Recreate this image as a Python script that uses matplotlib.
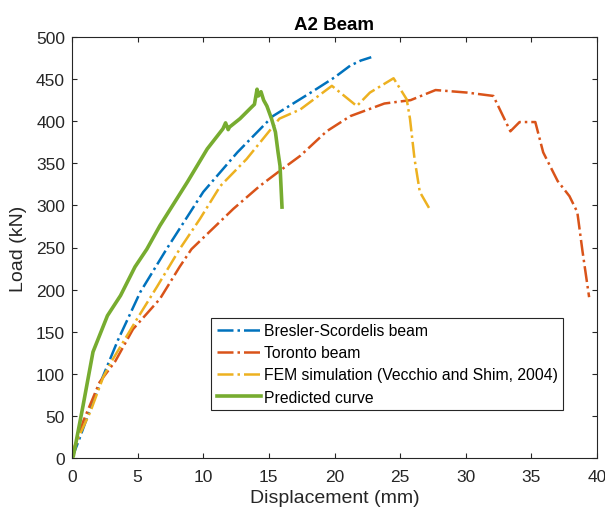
import matplotlib
matplotlib.use("Agg")
import matplotlib.pyplot as plt

plt.rcParams['font.family'] = ['Liberation Sans', 'DejaVu Sans']

# Bresler-Scordelis beam
bs_x = [0, 0.5, 1.2, 2.36, 3.5, 5.2, 7.2, 10.0, 12.6, 15.3, 18.4, 20.0, 21.2, 22.0, 22.8]
bs_y = [0, 20, 50, 97, 140, 197, 248, 316, 363, 406, 436, 452, 466, 472, 476]

# Toronto beam
tor_x = [0, 0.84, 2.1, 3.3, 4.65, 6.7, 8.2, 9.1, 12.3, 14.3, 16.0, 17.4, 19.4, 21.2,
         23.8, 25.8, 27.7, 30.1, 32.1, 33.4, 34.1, 35.3, 35.9, 37.0, 37.9, 38.5, 38.9, 39.4]
tor_y = [0, 43, 90, 115, 153, 189, 227, 248, 296, 323, 343, 359, 388, 406,
         421, 425, 437, 434, 430, 388, 399, 399, 363, 329, 311, 292, 245, 191]

# FEM simulation (Vecchio and Shim, 2004)
fem_x = [0, 0.1, 1.4, 2.4, 3.1, 4.95, 6.5, 8.2, 9.75, 11.3, 13.3, 15.8, 17.4, 19.8,
         21.7, 22.7, 24.5, 25.5, 25.75, 26.1, 26.5, 27.35]
fem_y = [0, 11, 55, 97, 117, 165, 204, 248, 284, 323, 355, 403, 414, 442,
         418, 434, 451, 426, 403, 355, 316, 293]

# Predicted curve
pred_x = [0, 0.1, 0.84, 1.6, 2.7, 3.7, 4.8, 5.7, 6.7, 8.8, 10.3, 11.5, 11.7, 11.9, 12.0,
          12.8, 13.7, 13.9, 14.1, 14.2, 14.3, 14.4, 14.6, 14.85, 15.2, 15.5, 15.7, 15.85, 16.0]
pred_y = [0, 2, 62, 126, 169, 193, 227, 248, 276, 328, 367, 391, 398, 390, 393,
          403, 417, 420, 438, 430, 432, 435, 425, 418, 403, 387, 363, 347, 298]

fig = plt.figure(figsize=(6.05, 5.10), dpi=100)
ax = fig.add_axes([72/605, 51/510, 525/605, 421/510])

ax.plot(bs_x, bs_y, '-.', color='#0072BD', lw=1.8, label='Bresler-Scordelis beam')
ax.plot(tor_x, tor_y, '-.', color='#D95319', lw=1.8, label='Toronto beam')
ax.plot(fem_x, fem_y, '-.', color='#EDB120', lw=1.8,
        label='FEM simulation (Vecchio and Shim, 2004)')
ax.plot(pred_x, pred_y, '-', color='#77AC30', lw=2.6, label='Predicted curve')

ax.set_xlim(0, 40)
ax.set_ylim(0, 500)
ax.set_xticks(range(0, 41, 5))
ax.set_yticks(range(0, 501, 50))
ax.tick_params(direction='in', top=True, right=True, labelsize=12.5, colors='#262626')
ax.tick_params(axis='x', pad=8)
ax.tick_params(axis='y', pad=5)
for s in ax.spines.values():
    s.set_color('#262626')
    s.set_linewidth(0.8)

ax.set_title('A2 Beam', fontsize=13.5, fontweight='bold', pad=6)
ax.set_xlabel('Displacement (mm)', fontsize=14, color='#262626')
ax.set_ylabel('Load (kN)', fontsize=14, color='#262626')
ax.xaxis.set_label_coords(0.5, -0.074)
ax.yaxis.set_label_coords(-0.085, 0.5)

leg = ax.legend(loc='lower left', bbox_to_anchor=(0.265, 0.114), fontsize=11.3,
                fancybox=False, framealpha=1, edgecolor='#262626', borderaxespad=0,
                handlelength=2.8, handletextpad=0.2, borderpad=0.35, labelspacing=0.45)
leg.get_frame().set_linewidth(0.8)

fig.savefig('out.png', dpi=100)
